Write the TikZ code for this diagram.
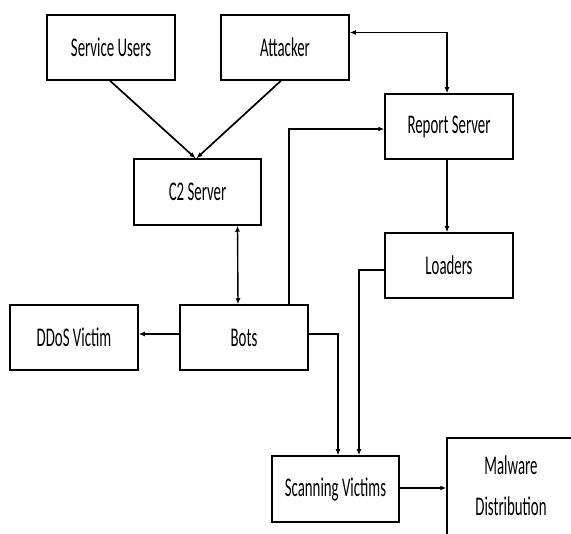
\documentclass[tikz,border=0pt]{standalone}
\usepackage{fontspec}
\setmainfont{Carlito}
\usepackage{graphicx}
\usetikzlibrary{positioning,arrows.meta,calc}

\newcommand{\sq}[1]{\scalebox{0.55}[1]{#1}}

\tikzset{
  blk/.style={draw=black, line width=1.5pt, minimum width=128pt, minimum height=65pt,
    inner sep=0pt, font=\fontsize{27}{33}\selectfont},
  arr/.style={line width=1.7pt, draw=black, -{Latex[length=6pt,width=5pt]}},
  dbl/.style={line width=1.4pt, draw=black, {Latex[length=6pt,width=5pt]}-{Latex[length=6pt,width=5pt]}}
}

\begin{document}
\begin{tikzpicture}[x=1pt,y=-1pt]
      \useasboundingbox (0,0) rectangle (571,534);
      \clip (0,0) rectangle (571,534);
      \node[blk] (su)   at (111,47.5)  {\sq{Service Users}};
      \node[blk] (att)  at (285,47.5)  {\sq{Attacker}};
      \node[blk, minimum width=127pt, minimum height=66pt] (c2) at (197.5,192) {\sq{C2 Server}};
      \node[blk] (rep)  at (449,126.5) {\sq{Report Server}};
      \node[blk] (ldr)  at (449,265.5) {\sq{Loaders}};
      \node[blk] (bots) at (244,337.5) {\sq{Bots}};
      \node[blk] (ddos) at (74,337.5)  {\sq{DDoS Victim}};
      \node[blk, minimum width=127pt, minimum height=66pt] (scan) at (335.5,489) {\sq{Scanning Victims}};
      \node[blk, minimum height=100pt] (mal) at (511,488)
        {\sq{\begin{tabular}{@{}c@{}}Malware\\[8pt]Distribution\end{tabular}}};
      \coordinate (sv) at ([yshift=1pt]scan.east);

      \draw[arr] ([xshift=-1pt]su.south) -- ([xshift=-2pt]c2.north);
      \draw[arr] ([xshift=-4pt]att.south) -- ([xshift=-1pt]c2.north);
      \draw[dbl] ([yshift=15pt]att.east) -| ([xshift=-2pt]rep.north);
      \draw[arr] ([xshift=-2pt]rep.south) -- ([xshift=-2pt]ldr.north);
      \draw[dbl] ([xshift=40pt]c2.south) -- ([xshift=-6pt]bots.north);
      \draw[arr] ([xshift=45pt]bots.north) |- ([yshift=-2.5pt]rep.west);
      \draw[arr] ([yshift=3.5pt]bots.west) -- ([yshift=3.5pt]ddos.east);
      \draw[arr] ([yshift=3.5pt]bots.east) -| ([xshift=2.5pt]scan.north);
      \draw[arr] ([yshift=-4.5pt]ldr.west) -| ([xshift=23.5pt]scan.north);
      \draw[arr] (sv) -- (mal.west |- sv);
    \end{tikzpicture}
\end{document}
